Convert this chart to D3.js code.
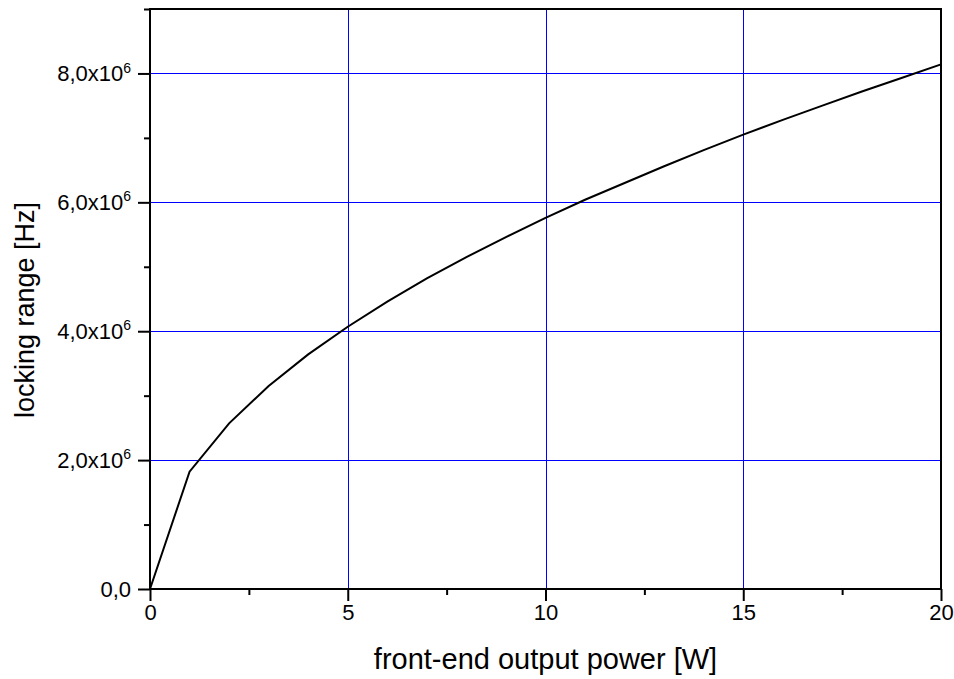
<!DOCTYPE html>
<html>
<head>
<meta charset="utf-8">
<script src="https://cdn.jsdelivr.net/npm/d3@7"></script>
<style>
  body { margin: 0; background: #fff; }
  svg { display: block; font-family: "Liberation Sans", Arial, sans-serif; }
  .axis path, .axis line { stroke: #000; }
  .axis text { fill: #000; }
</style>
</head>
<body>
<div id="chart"></div>
<script>
// data
var power = [0, 1, 2, 3, 4, 5, 6, 7, 8, 9, 10, 11, 12, 13, 14, 15, 16, 17, 18, 19, 20];
var lockRange = [0, 1.82e6, 2.57e6, 3.15e6, 3.64e6, 4.07e6, 4.46e6, 4.82e6, 5.15e6, 5.46e6,
    5.76e6, 6.04e6, 6.30e6, 6.56e6, 6.81e6, 7.05e6, 7.28e6, 7.50e6, 7.72e6, 7.93e6, 8.14e6];
var xTicks = [0, 5, 10, 15, 20];
var xMinor = [2.5, 7.5, 12.5, 17.5];
var yTicks = [0, 2e6, 4e6, 6e6, 8e6];
var yMinor = [1e6, 3e6, 5e6, 7e6, 9e6];
var xTitle = "front-end output power [W]";
var yTitle = "locking range [Hz]";

var W = 954, H = 679;
var margin = {top: 9, right: 13, bottom: 90, left: 150};
var width = W - margin.left - margin.right;
var height = H - margin.top - margin.bottom;

var svg = d3.select("#chart").append("svg")
    .attr("width", W)
    .attr("height", H);

var g = svg.append("g")
    .attr("transform", "translate(" + margin.left + "," + margin.top + ")");

var x = d3.scaleLinear().domain([0, 20]).range([0, width]);
var y = d3.scaleLinear().domain([0, 9e6]).range([height, 0]);

// grid
g.append("g").selectAll("line")
    .data(xTicks.slice(1, -1))
    .enter().append("line")
    .attr("x1", function(d) { return Math.round(x(d)) + 0.5; })
    .attr("x2", function(d) { return Math.round(x(d)) + 0.5; })
    .attr("y1", 0).attr("y2", height)
    .attr("stroke", "#0000ff").attr("stroke-width", 1);

g.append("g").selectAll("line")
    .data(yTicks.slice(1))
    .enter().append("line")
    .attr("y1", function(d) { return Math.round(y(d)) + 0.5; })
    .attr("y2", function(d) { return Math.round(y(d)) + 0.5; })
    .attr("x1", 0).attr("x2", width)
    .attr("stroke", "#0000ff").attr("stroke-width", 1);

// minor ticks
g.append("g")
    .attr("class", "axis")
    .attr("transform", "translate(0," + height + ")")
    .call(d3.axisBottom(x).tickValues(xMinor).tickSize(6).tickFormat(""))
    .call(function(s) { s.select(".domain").remove(); })
    .selectAll("line").attr("stroke-width", 2);

g.append("g")
    .attr("class", "axis")
    .call(d3.axisLeft(y).tickValues(yMinor).tickSize(6).tickFormat(""))
    .call(function(s) { s.select(".domain").remove(); })
    .selectAll("line").attr("stroke-width", 2);

// major ticks + labels
var xAxis = g.append("g")
    .attr("class", "axis")
    .attr("transform", "translate(0," + height + ")")
    .call(d3.axisBottom(x).tickValues(xTicks).tickSize(12).tickPadding(3).tickFormat(d3.format("d")));
xAxis.select(".domain").remove();
xAxis.selectAll("line").attr("stroke-width", 2);
xAxis.selectAll("text").attr("font-size", 22).attr("font-family", "Liberation Sans, Arial, sans-serif");

var yAxis = g.append("g")
    .attr("class", "axis")
    .call(d3.axisLeft(y).tickValues(yTicks).tickSize(12).tickPadding(7).tickFormat(""));
yAxis.select(".domain").remove();
yAxis.selectAll("line").attr("stroke-width", 2);
yAxis.selectAll(".tick text")
    .attr("font-size", 22)
    .attr("font-family", "Liberation Sans, Arial, sans-serif")
    .each(function(d) {
        var t = d3.select(this);
        if (d === 0) {
            t.text("0,0");
        } else {
            t.append("tspan").text((d / 1e6).toFixed(1).replace(".", ",") + "x10");
            t.append("tspan").attr("font-size", 14).attr("dy", "-0.6em").text("6");
        }
    });

// frame
g.append("rect")
    .attr("x", 0).attr("y", 0)
    .attr("width", width).attr("height", height)
    .attr("fill", "none")
    .attr("stroke", "#000")
    .attr("stroke-width", 2);

// curve
var line = d3.line()
    .x(function(d, i) { return x(power[i]); })
    .y(function(d) { return y(d); });

g.append("path")
    .datum(lockRange)
    .attr("d", line)
    .attr("fill", "none")
    .attr("stroke", "#000")
    .attr("stroke-width", 2);

// titles
svg.append("text")
    .attr("x", margin.left + width / 2)
    .attr("y", 669)
    .attr("text-anchor", "middle")
    .attr("font-size", 29)
    .text(xTitle);

svg.append("text")
    .attr("transform", "translate(34,310) rotate(-90)")
    .attr("text-anchor", "middle")
    .attr("font-size", 27)
    .text(yTitle);
</script>
</body>
</html>
